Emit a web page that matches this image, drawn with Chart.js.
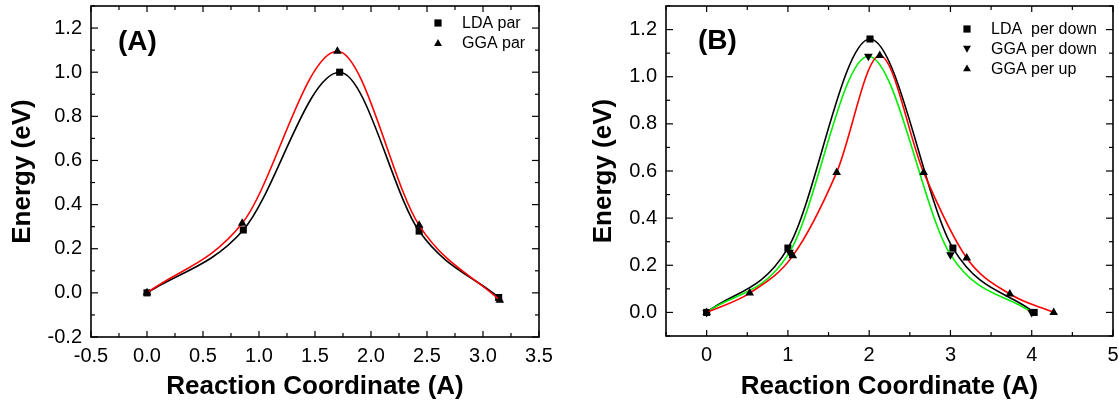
<!DOCTYPE html>
<html>
<head>
<meta charset="utf-8">
<script src="https://cdn.jsdelivr.net/npm/chart.js@4.4.1/dist/chart.umd.min.js"></script>
<style>
  body { margin: 0; background: #fff; }
  #wrap { position: relative; width: 1119px; height: 405px; background: #fff; }
  #panelA { position: absolute; left: 0; top: 0; }
  #panelB { position: absolute; left: 560px; top: 0; }
</style>
</head>
<body>
<div id="wrap">
  <canvas id="panelA" width="560" height="405"></canvas>
  <canvas id="panelB" width="559" height="405"></canvas>
</div>
<script>
// (A) parallel path
const ldaParX = [0, 0.86, 1.72, 2.43, 3.14];
const ldaParY = [0, 0.285, 1.0, 0.28, -0.021];
const ggaParX = [0, 0.85, 1.70, 2.43, 3.15];
const ggaParY = [0, 0.315, 1.095, 0.306, -0.033];

// (B) perpendicular path
const ldaPerDownX = [0, 1.0, 2.01, 3.03, 4.03];
const ldaPerDownY = [0, 0.273, 1.16, 0.273, 0];
const ggaPerDownX = [0, 1.02, 1.99, 3.0, 4.0];
const ggaPerDownY = [0, 0.255, 1.087, 0.245, 0];
const ggaPerUpX = [0, 0.53, 1.06, 1.6, 2.13, 2.67, 3.2, 3.73, 4.27];
const ggaPerUpY = [0, 0.082, 0.24, 0.594, 1.09, 0.594, 0.231, 0.078, 0];

// tick labels
const ticksAx = [-0.5, 0, 0.5, 1.0, 1.5, 2.0, 2.5, 3.0, 3.5];
const ticksAy = [-0.2, 0, 0.2, 0.4, 0.6, 0.8, 1.0, 1.2];
const ticksBx = [0, 1, 2, 3, 4, 5];
const ticksBy = [0, 0.2, 0.4, 0.6, 0.8, 1.0, 1.2];

const FONT = 'Arial, "Liberation Sans", Helvetica, sans-serif';

function pts(xs, ys) {
    return xs.map((x, i) => ({ x: x, y: ys[i] }));
}

function series(label, xs, ys, color, style, rot) {
    return {
        label: label,
        data: pts(xs, ys),
        showLine: true,
        borderColor: color,
        borderWidth: 1.6,
        cubicInterpolationMode: 'monotone',
        pointStyle: style,
        rotation: rot || 0,
        pointRadius: 5,
        pointBackgroundColor: '#000',
        pointBorderColor: '#000',
        pointBorderWidth: 0
    };
}

function drawMarker(ctx, style, x, y, r) {
    ctx.beginPath();
    if (style === 'rect') {
        ctx.rect(x - r, y - r, 2 * r, 2 * r);
    } else if (style === 'down') {
        ctx.moveTo(x - r * 1.1, y - r * 0.8);
        ctx.lineTo(x + r * 1.1, y - r * 0.8);
        ctx.lineTo(x, y + r * 1.1);
    } else {
        ctx.moveTo(x - r * 1.1, y + r * 0.8);
        ctx.lineTo(x + r * 1.1, y + r * 0.8);
        ctx.lineTo(x, y - r * 1.1);
    }
    ctx.closePath();
    ctx.fill();
}

// box, inward ticks, panel letter and legend
const framePlugin = {
    id: 'frame',
    afterDraw(chart, args, opts) {
        const { ctx, chartArea: a, scales } = chart;
        const x = scales.x, y = scales.y;
        ctx.save();
        ctx.strokeStyle = '#000';
        ctx.lineWidth = 1.2;
        const seg = (x1, y1, x2, y2) => {
            ctx.beginPath(); ctx.moveTo(x1, y1); ctx.lineTo(x2, y2); ctx.stroke();
        };
        const near = (v, list) => list.some(t => Math.abs(t - v) < 1e-6);
        for (let v = x.min; v <= x.max + 1e-9; v += opts.xMinor) {
            const p = x.getPixelForValue(v);
            const len = near(v, opts.xMajor) ? 6 : 4;
            seg(p, a.bottom, p, a.bottom - len);
            seg(p, a.top, p, a.top + len);
        }
        for (let v = y.min; v <= y.max + 1e-9; v += opts.yMinor) {
            const p = y.getPixelForValue(v);
            const len = near(v, opts.yMajor) ? 7 : 4;
            seg(a.left, p, a.left + len, p);
            seg(a.right, p, a.right - len, p);
        }
        ctx.lineWidth = 1.6;
        ctx.strokeRect(a.left, a.top, a.right - a.left, a.bottom - a.top);

        ctx.fillStyle = '#000';
        ctx.font = 'bold 28px ' + FONT;
        ctx.textBaseline = 'alphabetic';
        ctx.textAlign = 'left';
        ctx.fillText(opts.letter, opts.letterX, opts.letterY);

        ctx.font = '16px ' + FONT;
        ctx.textBaseline = 'middle';
        opts.legend.forEach((item, i) => {
            const yy = opts.legendY + i * opts.legendGap;
            drawMarker(ctx, item.style, opts.legendX, yy, 3.6);
            ctx.fillText(item.text, opts.legendX + 24, yy + 1);
        });
        ctx.restore();
    }
};

function makeScales(xr, yr, xt, yt, xDigits, yWidth, xHeight, yTitlePad) {
    return {
        x: {
            type: 'linear', min: xr[0], max: xr[1],
            afterBuildTicks: s => { s.ticks = xt.map(v => ({ value: v })); },
            afterFit: s => { s.height = xHeight; s.paddingLeft = 0; s.paddingRight = 0; },
            grid: { display: false, drawTicks: false }, border: { display: false },
            ticks: {
                color: '#000', padding: 7, maxRotation: 0, autoSkip: false,
                font: { family: FONT, size: 20 },
                callback: v => Number(v).toFixed(xDigits)
            },
            title: {
                display: true, text: 'Reaction Coordinate (A)', color: '#000',
                font: { family: FONT, size: 26, weight: 'bold' },
                padding: { top: 0, bottom: 3 }
            }
        },
        y: {
            type: 'linear', min: yr[0], max: yr[1],
            afterBuildTicks: s => { s.ticks = yt.map(v => ({ value: v })); },
            afterFit: s => { s.width = yWidth; s.paddingTop = 0; s.paddingBottom = 0; },
            grid: { display: false, drawTicks: false }, border: { display: false },
            ticks: {
                color: '#000', padding: 9, autoSkip: false,
                font: { family: FONT, size: 20 },
                callback: v => Number(v).toFixed(1)
            },
            title: {
                display: true, text: 'Energy (eV)', color: '#000',
                font: { family: FONT, size: 26, weight: 'bold' },
                padding: { top: yTitlePad, bottom: 0 }
            }
        }
    };
}

new Chart(document.getElementById('panelA'), {
    type: 'scatter',
    data: {
        datasets: [
            series('GGA par', ggaParX, ggaParY, '#ff0000', 'triangle'),
            series('LDA par', ldaParX, ldaParY, '#000000', 'rect')
        ]
    },
    options: {
        responsive: false,
        animation: false,
        layout: { padding: { top: 6, right: 21, bottom: 0, left: 0 } },
        scales: makeScales([-0.5, 3.5], [-0.2, 1.3], ticksAx, ticksAy, 1, 91, 68, 7),
        plugins: {
            legend: { display: false },
            tooltip: { enabled: false },
            frame: {
                xMinor: 0.25, xMajor: ticksAx, yMinor: 0.1, yMajor: ticksAy,
                letter: '(A)', letterX: 118, letterY: 50,
                legendX: 438, legendY: 23, legendGap: 20,
                legend: [{ style: 'rect', text: 'LDA par' }, { style: 'up', text: 'GGA par' }]
            }
        }
    },
    plugins: [framePlugin]
});

new Chart(document.getElementById('panelB'), {
    type: 'scatter',
    data: {
        datasets: [
            series('GGA per up', ggaPerUpX, ggaPerUpY, '#ff0000', 'triangle'),
            series('GGA per down', ggaPerDownX, ggaPerDownY, '#00ee00', 'triangle', 180),
            series('LDA  per down', ldaPerDownX, ldaPerDownY, '#000000', 'rect')
        ]
    },
    options: {
        responsive: false,
        animation: false,
        layout: { padding: { top: 6, right: 6, bottom: 0, left: 0 } },
        scales: makeScales([-0.5, 5], [-0.1, 1.3], ticksBx, ticksBy, 0, 106, 69, 28),
        plugins: {
            legend: { display: false },
            tooltip: { enabled: false },
            frame: {
                xMinor: 0.5, xMajor: ticksBx, yMinor: 0.1, yMajor: ticksBy,
                letter: '(B)', letterX: 138, letterY: 49,
                legendX: 407, legendY: 29, legendGap: 19.7,
                legend: [
                    { style: 'rect', text: 'LDA  per down' },
                    { style: 'down', text: 'GGA per down' },
                    { style: 'up', text: 'GGA per up' }
                ]
            }
        }
    },
    plugins: [framePlugin]
});
</script>
</body>
</html>
